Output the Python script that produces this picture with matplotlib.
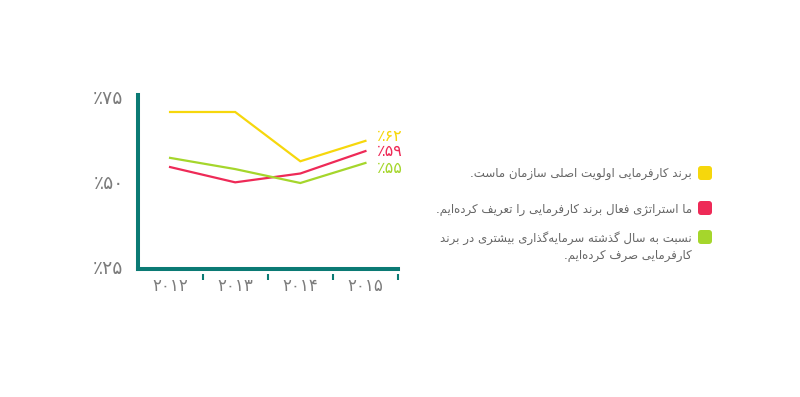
import matplotlib
matplotlib.use("Agg")
import matplotlib.pyplot as plt
from matplotlib.patches import FancyBboxPatch
from matplotlib.transforms import blended_transform_factory

# ---------------- data ----------------
years = ['۲۰۱۲', '۲۰۱۳', '۲۰۱۴', '۲۰۱۵']
y_ticks = [25, 50, 75]
y_tick_labels = ['٪۲۵', '٪۵۰', '٪۷۵']
yellow_vals = [70.5, 70.5, 56, 62]
red_vals = [54.3, 49.8, 52.4, 59]
green_vals = [57, 53.7, 49.6, 55.5]
end_labels = ['٪۶۲', '٪۵۹', '٪۵۵']
legend_texts = [
    ['برند کارفرمایی اولویت اصلی سازمان ماست.'],
    ['ما استراتژی فعال برند کارفرمایی را تعریف کرده\u200cایم.'],
    ['نسبت به سال گذشته سرمایه\u200cگذاری بیشتری در برند',
     'کارفرمایی صرف کرده\u200cایم.'],
]

# ---------------- colours ----------------
C_YEL = '#f6d70c'
C_RED = '#ee2a57'
C_GRN = '#a5d62c'
C_AX = '#0b7a74'
C_TXT = '#7c7c7c'

# ------------- simple Arabic/Persian shaping -------------
FORMS = {
    '\u0627': ('\uFE8D', '\uFE8E', None, None),
    '\u0628': ('\uFE8F', '\uFE90', '\uFE91', '\uFE92'),
    '\u062A': ('\uFE95', '\uFE96', '\uFE97', '\uFE98'),
    '\u062F': ('\uFEA9', '\uFEAA', None, None),
    '\u0630': ('\uFEAB', '\uFEAC', None, None),
    '\u0631': ('\uFEAD', '\uFEAE', None, None),
    '\u0632': ('\uFEAF', '\uFEB0', None, None),
    '\u0633': ('\uFEB1', '\uFEB2', '\uFEB3', '\uFEB4'),
    '\u0634': ('\uFEB5', '\uFEB6', '\uFEB7', '\uFEB8'),
    '\u0635': ('\uFEB9', '\uFEBA', '\uFEBB', '\uFEBC'),
    '\u0639': ('\uFEC9', '\uFECA', '\uFECB', '\uFECC'),
    '\u0641': ('\uFED1', '\uFED2', '\uFED3', '\uFED4'),
    '\u0644': ('\uFEDD', '\uFEDE', '\uFEDF', '\uFEE0'),
    '\u0645': ('\uFEE1', '\uFEE2', '\uFEE3', '\uFEE4'),
    '\u0646': ('\uFEE5', '\uFEE6', '\uFEE7', '\uFEE8'),
    '\u0647': ('\uFEE9', '\uFEEA', '\uFEEB', '\uFEEC'),
    '\u0648': ('\uFEED', '\uFEEE', None, None),
    '\u0698': ('\uFB8A', '\uFB8B', None, None),
    '\u06A9': ('\uFB8E', '\uFB8F', '\uFB90', '\uFB91'),
    '\u06AF': ('\uFB92', '\uFB93', '\uFB94', '\uFB95'),
    '\u06CC': ('\uFBFC', '\uFBFD', '\uFBFE', '\uFBFF'),
}


def shape(text):
    out = []
    n = len(text)
    for i, c in enumerate(text):
        if c not in FORMS:
            out.append(c)
            continue
        iso, fin, ini, med = FORMS[c]
        prev = text[i - 1] if i > 0 else None
        nxt = text[i + 1] if i + 1 < n else None
        jp = prev in FORMS and FORMS[prev][2] is not None
        jn = ini is not None and nxt in FORMS
        if jp and jn:
            out.append(med)
        elif jp:
            out.append(fin)
        elif jn:
            out.append(ini)
        else:
            out.append(iso)
    return ''.join(out).replace('\u200c', '')[::-1]


plt.rcParams['font.family'] = ['DejaVu Sans']

W, H = 800, 397
fig = plt.figure(figsize=(8, 3.97), dpi=100)
ax = fig.add_axes([137.5 / W, 1 - 269 / H, (398 - 137.5) / W, (269 - 95) / H])

x = list(range(len(years)))
ax.plot(x, yellow_vals, color=C_YEL, lw=1.6, solid_joinstyle='miter')
ax.plot(x, red_vals, color=C_RED, lw=1.6, solid_joinstyle='miter')
ax.plot(x, green_vals, color=C_GRN, lw=1.6, solid_joinstyle='miter')

ax.set_xlim(-0.5, 3.5)
ax.set_ylim(24.3, 75.5)

for s in ['top', 'right']:
    ax.spines[s].set_visible(False)
for s in ['left', 'bottom']:
    ax.spines[s].set_color(C_AX)
    ax.spines[s].set_linewidth(2.9)
    ax.spines[s].set_capstyle('projecting')

ax.set_xticks(x)
ax.set_xticklabels(years, fontsize=12, color=C_TXT)
ax.tick_params(axis='x', which='major', length=0, pad=6)
ax.set_yticks(y_ticks)
ax.set_yticklabels(y_tick_labels, fontsize=13.5, color=C_TXT)
ax.tick_params(axis='y', length=0, pad=10)

# detached separator ticks below the x axis
minor_x = [0.5, 1.5, 2.5, 3.5]
trans = blended_transform_factory(ax.transData, ax.transAxes)
ax.plot(minor_x, [-0.047] * len(minor_x), transform=trans, ls='none',
        marker='|', markersize=5, markeredgewidth=1.5, color=C_AX,
        clip_on=False)

# end labels
end_vals = [yellow_vals[-1], red_vals[-1], green_vals[-1]]
end_cols = [C_YEL, C_RED, C_GRN]
end_offsets = [3, 0, -4]
for lab, v, col, off in zip(end_labels, end_vals, end_cols, end_offsets):
    ax.annotate(lab, xy=(3, v), xytext=(8, off), textcoords='offset points',
                ha='left', va='center', fontsize=11.5, color=col,
                annotation_clip=False)

# legend
leg_cols = [C_YEL, C_RED, C_GRN]
leg_y = [173, 208, 237]
for col, yc, lines in zip(leg_cols, leg_y, legend_texts):
    box = FancyBboxPatch((698, H - yc - 7), 14, 14,
                         boxstyle='round,pad=0,rounding_size=3',
                         fc=col, ec='none', transform=None)
    fig.add_artist(box)
    for k, line in enumerate(lines):
        ty = yc + 1 + k * 18
        fig.text(692 / W, 1 - ty / H, shape(line), ha='right', va='center',
                 fontsize=8.5, color='#666666')

fig.savefig('out.png', dpi=100)
